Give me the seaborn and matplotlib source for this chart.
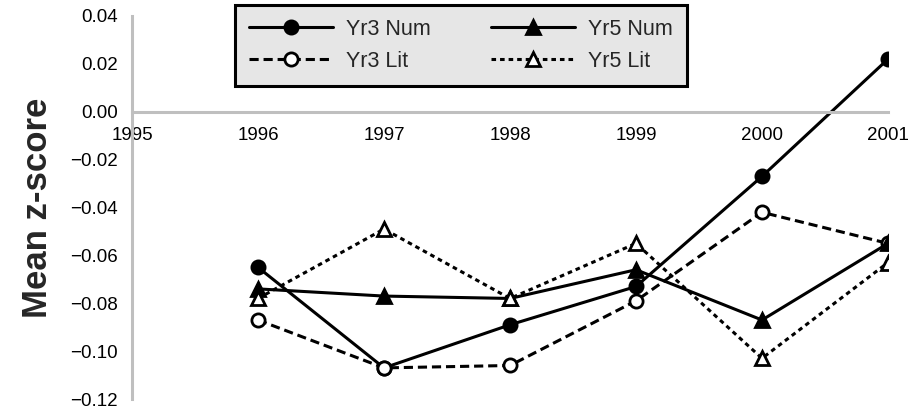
import pandas as pd
import matplotlib
matplotlib.use("Agg")
import matplotlib.pyplot as plt
import seaborn as sns

sns.set_theme(style="white")
plt.rcParams["font.family"] = ["Liberation Sans", "DejaVu Sans"]

years = [1996, 1997, 1998, 1999, 2000, 2001]
yr3_num = [-0.065, -0.107, -0.089, -0.073, -0.027, 0.022]
yr5_num = [-0.074, -0.077, -0.078, -0.066, -0.087, -0.055]
yr3_lit = [-0.087, -0.107, -0.106, -0.079, -0.042, -0.055]
yr5_lit = [-0.078, -0.049, -0.078, -0.055, -0.103, -0.063]

x_ticks = [1995, 1996, 1997, 1998, 1999, 2000, 2001]
y_ticks = [0.04, 0.02, 0.00, -0.02, -0.04, -0.06, -0.08, -0.10, -0.12]

scores = pd.DataFrame({"Year": years, "Yr3 Num": yr3_num, "Yr5 Num": yr5_num,
                       "Yr3 Lit": yr3_lit, "Yr5 Lit": yr5_lit})

fig = plt.figure(figsize=(9.13, 4.09), dpi=100)
ax = fig.add_axes([132 / 913, 1 - 399 / 409, (888 - 132) / 913, (399 - 16) / 409])

styles = {
    "Yr3 Num": dict(marker="o", linestyle="-", markerfacecolor="black"),
    "Yr3 Lit": dict(marker="o", linestyle=(0, (3, 1.6)), markerfacecolor="white"),
    "Yr5 Num": dict(marker="^", linestyle="-", markerfacecolor="black"),
    "Yr5 Lit": dict(marker="^", linestyle=(0, (1.5, 1.3)), markerfacecolor="white"),
}
for name, st in styles.items():
    sns.lineplot(data=scores, x="Year", y=name, ax=ax, color="black", linewidth=2.2,
                 marker=st["marker"], markersize=9.5, markerfacecolor=st["markerfacecolor"],
                 markeredgecolor="black", markeredgewidth=2, label=name)
    ax.lines[-1].set_linestyle(st["linestyle"])

ax.set_xlim(1995, 2001)
ax.set_ylim(-0.12, 0.04)
ax.set_xticks(x_ticks)
ax.set_xticklabels([str(y) for y in x_ticks])
ax.set_yticks(y_ticks)
ax.set_yticklabels([f"{v:.2f}".replace("-", "\u2212") for v in y_ticks])

for side in ["top", "right"]:
    ax.spines[side].set_visible(False)
ax.spines["bottom"].set_position(("data", 0))
for side in ["left", "bottom"]:
    ax.spines[side].set_color("#bfbfbf")
    ax.spines[side].set_linewidth(2.2)
ax.tick_params(axis="both", direction="out", length=6, width=2.2, color="#bfbfbf",
               labelsize=13.5, labelcolor="black")
ax.tick_params(axis="x", pad=5)
ax.tick_params(axis="y", pad=4)

ax.set_xlabel("")
ax.set_ylabel("Mean z-score", fontsize=25, fontweight="bold", labelpad=12)

handles, labels = ax.get_legend_handles_labels()
order = ["Yr3 Num", "Yr3 Lit", "Yr5 Num", "Yr5 Lit"]
hmap = dict(zip(labels, handles))
leg = ax.legend([hmap[k] for k in order], order, ncol=2, loc="upper left",
                bbox_to_anchor=(235 / 913, 1 - 5 / 409), bbox_transform=fig.transFigure,
                borderaxespad=0, fontsize=15.5, frameon=True, fancybox=False, framealpha=1,
                edgecolor="black", facecolor="#e6e6e6", handlelength=3.9,
                columnspacing=2.8, borderpad=0.65, labelspacing=0.5, handletextpad=0.6)
leg.get_frame().set_linewidth(2.2)

fig.savefig("out.png", dpi=100)
